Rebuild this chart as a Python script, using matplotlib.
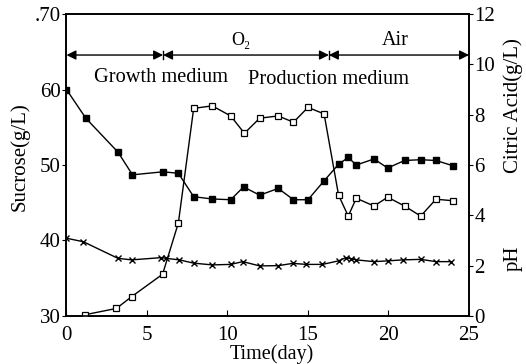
import matplotlib.pyplot as plt
import numpy as np

plt.rcParams['font.family'] = ['Liberation Serif', 'DejaVu Serif']

# sucrose (g/L), left axis
suc_day = [0, 1.2, 3.2, 4.1, 6.0, 6.95, 7.9, 9.05, 10.2, 11.0, 12.0, 13.15, 14.1, 15.0, 16.0,
           16.9, 17.5, 18.0, 19.1, 19.95, 21.0, 22.0, 22.95, 24.0]
sucrose = [60.0, 56.2, 51.7, 48.7, 49.1, 48.9, 45.8, 45.5, 45.4, 47.1, 46.0, 46.9, 45.4, 45.4, 47.9,
           50.1, 51.0, 50.0, 50.8, 49.6, 50.6, 50.7, 50.6, 49.9]

# citric acid (g/L), right axis
ca_day = [1.15, 3.1, 4.05, 5.97, 6.95, 7.9, 9.05, 10.2, 11.05, 12.0, 13.15, 14.1, 15.0, 16.0,
          16.9, 17.5, 18.0, 19.1, 19.95, 21.0, 22.0, 22.95, 24.0]
citric = [0.05, 0.3, 0.77, 1.66, 3.7, 8.25, 8.35, 7.95, 7.26, 7.86, 7.95, 7.7, 8.29, 8.03,
          4.8, 3.97, 4.68, 4.37, 4.72, 4.37, 3.97, 4.64, 4.58]

# pH, right axis
ph_day = [0, 1.05, 3.2, 4.05, 5.9, 6.2, 7.0, 7.9, 9.05, 10.2, 10.95, 12.0, 13.15, 14.05, 14.9, 15.9,
          16.9, 17.35, 17.7, 18.0, 19.1, 19.95, 20.9, 22.0, 22.95, 23.9]
ph = [3.09, 2.95, 2.29, 2.23, 2.32, 2.29, 2.23, 2.1, 2.03, 2.05, 2.16, 1.99, 2.0, 2.09, 2.05, 2.05,
      2.19, 2.32, 2.27, 2.23, 2.16, 2.19, 2.23, 2.25, 2.16, 2.16]

# phases along the top
phase_edges = [0, 6, 16.3, 25]
gas_labels = ['O₂', 'Air']

fig = plt.figure(figsize=(5.26, 3.64), dpi=100)
ax = fig.add_axes([0.1264, 0.1319, 0.7652, 0.8296])
ax2 = ax.twinx()

ax.plot(suc_day, sucrose, color='black', lw=1.0, marker='s', ms=5, mfc='black', mec='black')
ax2.plot(ca_day, citric, color='black', lw=1.0, marker='s', ms=5, mfc='white', mec='black', mew=0.9)
ax2.plot(ph_day, ph, color='black', lw=1.0, marker='x', ms=5, mew=1.0)

ax.set_xlim(0, 25)
ax.set_ylim(30, 70)
ax2.set_ylim(0, 12)
ax.set_xticks([0, 5, 10, 15, 20, 25])
ax.set_yticks([30, 40, 50, 60, 70])
ax.set_yticklabels(['30', '40', '50', '60', '.70'])
ax2.set_yticks([0, 2, 4, 6, 8, 10, 12])

ax.tick_params(axis='x', direction='in', length=4, labelsize=15, pad=7)
ax.tick_params(axis='y', direction='out', length=3, labelsize=15, pad=1)
ax2.tick_params(axis='y', direction='out', length=3, labelsize=15, pad=1)
for a in (ax, ax2):
    for s in a.spines.values():
        s.set_linewidth(1.2)

# arrows for the aeration / medium phases
arr_y = 10.37
for a0, a1 in zip(phase_edges[:-1], phase_edges[1:]):
    ax2.annotate('', xy=(a0, arr_y), xytext=(a1, arr_y),
                 arrowprops=dict(arrowstyle='<|-|>', color='black', lw=1.0,
                                 mutation_scale=14, shrinkA=0, shrinkB=0))
for xb in phase_edges[1:3]:
    ax2.plot([xb, xb], [arr_y - 0.15, arr_y + 0.15], color='black', lw=1.0)

ax2.text(10.85, 10.95, gas_labels[0], ha='center', va='center', fontsize=13)
ax2.text(20.45, 10.95, gas_labels[1], ha='center', va='center', fontsize=14.5)
ax2.text(5.84, 9.46, 'Growth medium', ha='center', va='center', fontsize=14.7)
ax2.text(16.25, 9.38, 'Production medium', ha='center', va='center', fontsize=14.7)

fig.text(0.517, 0.027, 'Time(day)', ha='center', va='center', fontsize=14.5)
fig.text(0.038, 0.569, 'Sucrose(g/L)', rotation=90, ha='center', va='center', fontsize=15)
fig.text(0.976, 0.71, 'Citric Acid(g/L)', rotation=90, ha='center', va='center', fontsize=15)
fig.text(0.976, 0.29, 'pH', rotation=90, ha='center', va='center', fontsize=15)

fig.savefig('out.png', dpi=100)
